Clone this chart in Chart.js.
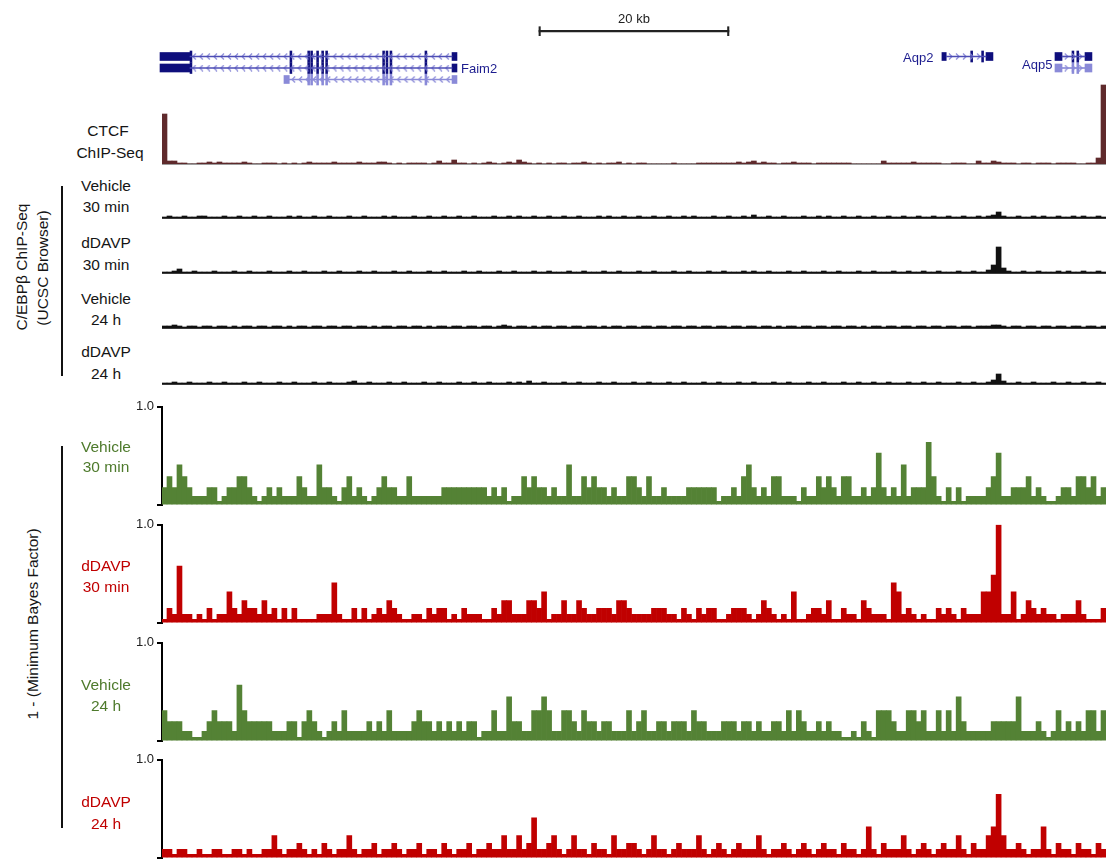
<!DOCTYPE html>
<html><head><meta charset="utf-8">
<script src="https://cdn.jsdelivr.net/npm/chart.js@4.4.1/dist/chart.umd.min.js"></script>
<style>
html,body{margin:0;padding:0;background:#fff;width:1106px;height:861px;overflow:hidden;}
#root{position:relative;width:1106px;height:861px;font-family:"Liberation Sans",Arial,Helvetica,sans-serif;}
canvas{position:absolute;}
.c{position:absolute;transform:translate(-50%,-50%);line-height:1;white-space:nowrap;}
.l{position:absolute;transform:translate(0,-50%);line-height:1;white-space:nowrap;}
.r{position:absolute;transform:translate(-50%,-50%) rotate(-90deg);line-height:1;white-space:nowrap;}
.brk{position:absolute;width:2px;background:#111;}
</style></head><body><div id="root"></div>
<script>
// ---------------- DATA ----------------
// CTCF ChIP-Seq signal per ~0.53 kb bin (pixel-height units, axis 0-80)
const ctcf = [
 50,3,3,1,1,0,0,1,1,2, 1,2,1,1,1,1,2,1,0,0, 1,1,1,0,1,0,1,0,1,2, 1,1,1,1,2,1,1,1,1,2,
 1,1,1,2,2,1,0,1,0,1, 1,1,1,0,1,3,1,1,4,1, 1,0,1,0,1,2,1,0,1,2, 1,4,2,1,0,1,0,1,0,1,
 1,0,1,1,2,1,0,1,0,1, 1,2,0,1,0,1,1,0,0,0, 0,0,1,0,0,0,0,1,1,1, 1,1,1,1,1,2,1,2,3,1,
 2,1,1,0,1,1,2,1,1,1, 0,1,1,1,1,1,1,1,0,0, 0,0,0,0,3,1,1,1,1,1, 2,1,1,1,1,1,0,0,1,1,
 1,0,0,3,1,1,3,2,1,1, 1,0,1,1,0,1,1,1,0,1, 1,1,1,0,0,1,1,6,79];
// C/EBPbeta ChIP-Seq (UCSC browser) signal, pixel-height units (axis 0-50)
const cebpVeh30 = [
 1,2,1,1,2,1,1,2,2,1, 1,1,2,1,1,2,1,1,2,1, 1,2,1,1,1,2,1,2,1,1, 2,1,1,2,1,1,1,2,1,1, 2,1,1,1,2,1,2,1,1,1,
 2,1,1,2,1,1,2,1,1,2, 1,1,2,1,1,1,2,1,1,2, 1,2,1,1,2,1,1,2,1,1, 2,1,1,2,1,1,1,2,1,2, 1,1,2,1,1,2,1,1,2,1,
 1,2,1,1,2,1,2,1,1,1, 2,1,1,2,1,1,2,1,3,1, 1,2,1,1,2,1,1,1,2,1, 1,2,1,2,1,1,2,1,1,2, 1,1,2,1,1,2,1,1,2,1,
 1,2,1,1,2,1,1,2,1,1, 2,1,1,2,1,2,3,6,2,1, 1,2,1,1,2,1,2,1,1,2, 1,1,2,1,2,1,1,2,1];
const cebpDdavp30 = [
 1,1,2,4,1,1,2,1,1,1, 2,1,1,1,2,1,1,2,1,1, 1,2,1,1,1,2,1,1,2,1, 1,1,2,1,1,2,1,1,1,2, 1,1,2,1,1,1,2,1,1,2,
 1,1,1,2,1,1,2,1,1,1, 2,1,1,2,1,1,1,2,1,1, 2,1,1,1,2,1,1,2,1,1, 1,2,1,1,2,1,1,1,2,1, 1,2,1,1,1,2,1,1,2,1,
 1,1,2,1,1,2,1,1,1,2, 1,1,2,1,1,1,2,1,2,1, 1,2,1,1,1,2,1,1,2,1, 1,1,2,1,1,2,1,1,1,2, 1,1,2,1,1,1,2,1,1,2,
 1,1,2,1,1,2,1,1,1,2, 1,1,2,1,1,3,8,26,5,2, 1,1,2,1,1,2,1,1,1,2, 1,2,1,1,2,1,1,2,1];
const cebpVeh24 = [
 2,2,3,2,1,2,2,1,2,2, 1,2,2,1,2,1,2,2,1,2, 2,1,2,2,1,2,1,2,2,1, 2,2,1,2,2,1,2,2,1,2, 2,1,2,1,2,2,1,2,2,1,
 2,2,1,2,1,2,2,1,2,2, 1,2,2,1,2,2,1,2,3,2, 1,2,2,1,2,1,2,2,1,2, 2,1,2,2,1,2,2,1,2,1, 2,2,1,2,2,1,2,2,1,2,
 2,1,2,2,1,2,2,1,2,2, 1,2,2,1,2,2,1,2,2,1, 2,2,1,2,1,2,2,1,2,2, 1,2,2,1,2,2,1,2,2,1, 2,1,2,2,1,2,2,1,2,2,
 1,2,2,1,2,2,1,2,2,1, 2,2,1,2,2,2,3,3,2,1, 2,2,1,2,2,1,2,2,1,2, 2,1,2,2,1,2,2,1,2];
const cebpDdavp24 = [
 1,1,2,1,1,2,1,1,1,2, 1,1,2,1,1,1,2,1,1,2, 1,1,1,2,1,1,2,1,1,1, 2,1,1,2,1,1,1,2,3,1, 1,2,1,1,1,2,1,1,2,1,
 1,1,2,1,1,2,1,1,1,2, 1,1,2,1,1,2,1,1,1,2, 1,2,1,3,1,1,2,1,1,1, 2,1,1,2,1,1,1,2,1,1, 2,1,1,1,2,1,1,2,1,1,
 1,2,1,1,2,1,1,1,2,1, 1,2,1,1,1,2,1,1,2,1, 1,1,2,1,1,2,1,1,1,2, 1,1,2,1,1,1,2,1,1,2, 1,1,2,1,1,2,1,1,1,2,
 1,1,2,1,1,2,1,1,1,2, 1,1,2,1,1,2,4,10,3,1, 1,2,1,1,2,1,1,1,2,1, 1,2,1,1,2,1,1,2,1];
// 1 - (Minimum Bayes Factor) per bin
const mbfVeh30 = [
 .18,.29,.18,.41,.29,.18,.09,.09,.09,.18, .18,.04,.09,.18,.18,.29,.29,.18,.09,.04,
 .09,.18,.09,.18,.09,.09,.09,.29,.18,.09, .09,.41,.18,.18,.09,.04,.18,.29,.09,.18,
 .09,.04,.09,.18,.29,.18,.18,.09,.09,.29, .09,.09,.09,.09,.09,.09,.18,.18,.18,.18,
 .18,.18,.18,.18,.18,.09,.18,.09,.18,.04, .09,.09,.29,.18,.29,.18,.18,.09,.18,.09,
 .09,.41,.09,.09,.29,.18,.29,.18,.18,.09, .18,.09,.09,.29,.29,.18,.09,.29,.09,.09,
 .18,.09,.09,.09,.09,.18,.18,.18,.18,.18, .18,.04,.09,.09,.18,.09,.29,.41,.18,.09,
 .18,.09,.29,.29,.09,.09,.09,.04,.18,.09, .09,.29,.18,.29,.18,.09,.29,.29,.09,.09,
 .18,.09,.18,.53,.18,.09,.18,.09,.41,.09, .18,.18,.18,.64,.29,.09,.04,.18,.04,.18,
 .04,.09,.09,.09,.09,.18,.29,.53,.09,.09, .18,.18,.18,.29,.09,.18,.09,.04,.04,.09,
 .18,.18,.09,.29,.29,.18,.29,.09,.18];
const mbfDdavp30 = [
 .04,.15,.09,.58,.09,.09,.04,.09,.04,.15, .04,.09,.09,.32,.15,.09,.23,.15,.15,.09,
 .23,.09,.15,.04,.15,.04,.15,.04,.04,.04, .04,.09,.09,.09,.41,.09,.04,.04,.15,.04,
 .15,.04,.09,.15,.09,.23,.15,.09,.04,.04, .09,.09,.04,.15,.09,.15,.15,.04,.09,.04,
 .15,.09,.09,.09,.04,.04,.15,.09,.23,.23, .09,.09,.09,.23,.23,.15,.32,.04,.09,.09,
 .23,.09,.09,.23,.15,.09,.09,.15,.15,.15, .09,.23,.23,.15,.09,.09,.09,.09,.15,.15,
 .15,.09,.09,.04,.15,.09,.04,.15,.09,.15, .15,.04,.04,.09,.15,.15,.15,.09,.04,.09,
 .23,.15,.09,.04,.09,.04,.32,.04,.04,.09, .15,.15,.09,.23,.04,.04,.15,.09,.09,.04,
 .23,.15,.09,.09,.09,.04,.41,.32,.09,.15, .09,.04,.09,.04,.04,.15,.09,.15,.09,.04,
 .15,.09,.09,.09,.32,.32,.49,1.0,.09,.09, .32,.04,.09,.23,.15,.09,.15,.09,.09,.04,
 .09,.09,.09,.23,.09,.04,.04,.04,.15];
const mbfVeh24 = [
 .31,.20,.20,.20,.10,.10,.04,.04,.10,.20, .31,.20,.20,.20,.10,.57,.31,.20,.20,.20,
 .20,.20,.10,.10,.10,.20,.20,.04,.20,.31, .20,.10,.04,.10,.20,.10,.31,.10,.10,.10,
 .10,.20,.10,.20,.10,.31,.10,.10,.10,.10, .20,.31,.20,.20,.10,.20,.10,.20,.10,.20,
 .10,.20,.20,.04,.10,.10,.31,.10,.10,.45, .20,.20,.10,.10,.31,.31,.45,.31,.10,.10,
 .31,.31,.20,.10,.31,.20,.20,.10,.20,.20, .10,.10,.10,.31,.10,.20,.31,.10,.10,.20,
 .20,.10,.20,.20,.20,.10,.31,.20,.20,.10, .10,.10,.20,.20,.20,.10,.20,.20,.10,.20,
 .10,.10,.20,.20,.10,.31,.10,.31,.20,.10, .10,.20,.10,.20,.10,.10,.04,.04,.10,.04,
 .20,.10,.04,.31,.31,.31,.20,.10,.10,.31, .31,.20,.31,.10,.10,.31,.10,.31,.10,.45,
 .20,.10,.10,.10,.10,.10,.20,.20,.20,.20, .20,.45,.10,.10,.10,.20,.10,.04,.10,.31,
 .10,.20,.10,.20,.10,.31,.31,.10,.31];
const mbfDdavp24 = [
 .09,.09,.04,.09,.09,.04,.04,.09,.04,.04, .09,.09,.04,.04,.09,.09,.04,.09,.04,.04,
 .09,.09,.23,.09,.04,.09,.09,.15,.09,.04, .09,.04,.15,.09,.04,.09,.09,.23,.09,.04,
 .09,.09,.15,.04,.09,.09,.15,.09,.04,.09, .09,.15,.04,.09,.09,.04,.15,.09,.04,.09,
 .09,.15,.04,.09,.09,.15,.09,.09,.23,.09, .09,.23,.09,.15,.41,.09,.09,.15,.23,.09,
 .04,.09,.23,.09,.09,.04,.15,.09,.09,.04, .23,.09,.09,.15,.15,.09,.04,.09,.23,.09,
 .09,.04,.09,.15,.09,.09,.09,.23,.09,.04, .09,.15,.09,.04,.09,.15,.09,.09,.09,.23,
 .09,.04,.09,.09,.15,.09,.04,.09,.15,.09, .04,.09,.15,.09,.09,.04,.15,.09,.09,.04,
 .09,.32,.09,.04,.15,.09,.09,.09,.23,.09, .04,.09,.15,.09,.04,.09,.15,.09,.09,.23,
 .09,.04,.15,.09,.09,.23,.32,.65,.23,.09, .09,.15,.09,.04,.09,.09,.32,.09,.04,.15,
 .09,.09,.04,.15,.09,.09,.04,.15,.09];
// Gene models (kb from left edge of the window)
const faim2Utr = [[-0.21, 2.95], [30.53, 31.05]];
const faim2Exons = [2.95, 13.47, 15.34, 15.65, 16.28, 16.81, 17.23, 23.23, 23.58, 24.00, 27.68];
const faim2Intron = [2.95, 30.53];
const faim2ShortUtr = [[12.84, 13.40], [30.53, 31.05]];
const faim2ShortExons = [15.34, 15.65, 16.28, 16.81, 17.23, 23.23, 23.58, 24.00, 27.68];
const faim2ShortIntron = [13.40, 30.53];
const aqp2Utr = [[82.10, 82.55], [86.74, 87.47]];
const aqp2Exons = [85.13, 86.28];
const aqp2Intron = [82.55, 86.74];
const aqp5Utr = [[94.00, 94.74], [97.16, 97.89]];
const aqp5Exons = [95.79, 96.30];
const aqp5Intron = [94.74, 97.16];
const scaleBarKb = [39.68, 59.68];
const geneLabels = ['Faim2', 'Aqp2', 'Aqp5'];
const kbPerBin = 5 / 9.5;

// ---------------- DRAWING ----------------
Chart.defaults.font.family = '"Liberation Sans", Arial, Helvetica, sans-serif';
const root = document.getElementById('root');
const binLabels = ctcf.map((_, i) => (i * kbPerBin).toFixed(2));
function addCanvas(left, top, w, h) {
  const c = document.createElement('canvas');
  c.width = w; c.height = h;
  c.style.left = left + 'px'; c.style.top = top + 'px';
  c.style.width = w + 'px'; c.style.height = h + 'px';
  root.appendChild(c); return c;
}
function addText(text, x, y, cls, color, size) {
  const d = document.createElement('div');
  d.className = cls; d.textContent = text;
  d.style.left = x + 'px'; d.style.top = y + 'px';
  d.style.color = color; d.style.fontSize = size + 'px';
  root.appendChild(d); return d;
}
const common = {responsive: false, animation: false, devicePixelRatio: 1, events: [],
  plugins: {legend: {display: false}, tooltip: {enabled: false}}};

function signalTrack(values, baseline, h, ymax, color, baseColor) {
  const c = addCanvas(162, baseline - h, 944, h + 2);
  new Chart(c, {type: 'bar',
    data: {labels: binLabels, datasets: [{data: values, backgroundColor: color, borderWidth: 0, barPercentage: 1, categoryPercentage: 1}]},
    options: {...common, layout: {padding: {top: 0, bottom: 2, left: 0, right: 0}},
      scales: {
        x: {display: true, grid: {display: false}, ticks: {display: false}, border: {display: true, color: baseColor, width: 2}, afterFit: s => { s.height = 0; }},
        y: {display: false, min: 0, max: ymax}
      }}});
}
function bayesTrack(values, axisTop, color) {
  const c = addCanvas(122, axisTop - 10, 984, 120);
  new Chart(c, {type: 'bar',
    data: {labels: binLabels, datasets: [{data: values, backgroundColor: color, borderWidth: 0, barPercentage: 1, categoryPercentage: 1}]},
    options: {...common, layout: {padding: {top: 10, bottom: 10, left: 0, right: 0}},
      scales: {
        x: {display: false},
        y: {min: 0, max: 1, afterFit: s => { s.width = 40; },
          afterBuildTicks: s => { s.ticks = [{value: 0}, {value: 1}]; },
          ticks: {callback: v => (v === 1 ? '1.0' : ''), color: '#222', font: {size: 13}, padding: 3},
          grid: {drawOnChartArea: false, drawTicks: true, tickLength: 5, color: '#000', lineWidth: 2},
          border: {display: true, color: '#000', width: 2}}
      }}});
}

// Gene track
const DARK = '#0e0e7c', LIGHT = '#8a8ad8', LINE = '#4c4cb4';
function chevronImg(dir) {
  const c = document.createElement('canvas'); c.width = 5; c.height = 7;
  const g = c.getContext('2d'); g.strokeStyle = LIGHT; g.lineWidth = 1.2; g.beginPath();
  if (dir < 0) { g.moveTo(4, 0.5); g.lineTo(1, 3.5); g.lineTo(4, 6.5); }
  else { g.moveTo(1, 0.5); g.lineTo(4, 3.5); g.lineTo(1, 6.5); }
  g.stroke(); return c;
}
const spans = (list, lane) => list.map(([s, e]) => ({y: lane, x: [s, e]}));
const marks = (list, lane) => list.map(p => ({y: lane, x: [p, p + 0.2]}));
function chevrons(span, lane) {
  const out = [];
  for (let p = span[0] + 0.45; p < span[1] - 0.2; p += 0.74) out.push({x: p, y: lane});
  return out;
}
const gc = addCanvas(150, 0, 956, 90);
const hb = (data, color, thick) => ({type: 'bar', data, backgroundColor: color, barThickness: thick, grouped: false, borderWidth: 0});
new Chart(gc, {type: 'bar',
  data: {datasets: [
    hb([...spans([faim2Intron], 1), ...spans([faim2Intron], 2), ...spans([aqp2Intron], 1), ...spans([aqp5Intron], 1)], LINE, 1),
    hb([...spans([faim2ShortIntron], 3), ...spans([aqp5Intron], 2)], LIGHT, 1),
    {type: 'scatter', data: [...chevrons(faim2Intron, 1), ...chevrons(faim2Intron, 2), ...chevrons(faim2ShortIntron, 3)], pointStyle: chevronImg(-1), pointRadius: 2},
    {type: 'scatter', data: [...chevrons(aqp2Intron, 1), ...chevrons(aqp5Intron, 1), ...chevrons(aqp5Intron, 2)], pointStyle: chevronImg(1), pointRadius: 2},
    hb([...spans(faim2Utr, 1), ...spans(faim2Utr, 2), ...spans(aqp2Utr, 1), ...spans(aqp5Utr, 1)], DARK, 8),
    hb([...marks(faim2Exons, 1), ...marks(faim2Exons, 2), ...marks(aqp2Exons, 1), ...marks(aqp5Exons, 1)], DARK, 11),
    hb([...spans(faim2ShortUtr, 3), ...spans(aqp5Utr, 2)], LIGHT, 8),
    hb([...marks(faim2ShortExons, 3), ...marks(aqp5Exons, 2)], LIGHT, 11),
    hb([{y: -1.2, x: scaleBarKb}], '#222', 1.5),
    hb([{y: -1.2, x: [scaleBarKb[0], scaleBarKb[0] + 0.15]}, {y: -1.2, x: [scaleBarKb[1] - 0.15, scaleBarKb[1]]}], '#222', 9)
  ]},
  options: {...common, indexAxis: 'y', layout: {padding: 0, autoPadding: false},
    scales: {x: {type: 'linear', display: false, offset: false, min: -1.263, max: 99.37},
             y: {type: 'linear', display: false, offset: false, min: -3.913, max: 3.913, reverse: true}}}});

// tracks
signalTrack(ctcf, 164, 80, 80, '#5f2a2c', '#9c9c9c');
signalTrack(cebpVeh30, 218, 50, 50, '#111', '#3c3c3c');
signalTrack(cebpDdavp30, 273, 50, 50, '#111', '#3c3c3c');
signalTrack(cebpVeh24, 328, 50, 50, '#111', '#3c3c3c');
signalTrack(cebpDdavp24, 384, 50, 50, '#111', '#3c3c3c');
const GREEN = '#548235', RED = '#c00000';
bayesTrack(mbfVeh30, 406, GREEN);
bayesTrack(mbfDdavp30, 524, RED);
bayesTrack(mbfVeh24, 642, GREEN);
bayesTrack(mbfDdavp24, 759, RED);

// text
const BL = '#151515', GT = '#4e7a2c', RT = '#c00000', FS = 15.5;
addText('20 kb', 634, 18, 'c', '#222', 13);
addText(geneLabels[0], 461, 68, 'l', '#1d1d8f', 13);
addText(geneLabels[1], 903, 57, 'l', '#1d1d8f', 13);
addText(geneLabels[2], 1022, 64, 'l', '#1d1d8f', 13);
addText('CTCF', 108, 131, 'c', BL, FS); addText('ChIP-Seq', 110, 153, 'c', BL, FS);
addText('Vehicle', 106, 186, 'c', BL, FS); addText('30 min', 106, 207, 'c', BL, FS);
addText('dDAVP', 106, 243, 'c', BL, FS); addText('30 min', 106, 265, 'c', BL, FS);
addText('Vehicle', 106, 299, 'c', BL, FS); addText('24 h', 106, 320, 'c', BL, FS);
addText('dDAVP', 106, 352, 'c', BL, FS); addText('24 h', 106, 374, 'c', BL, FS);
addText('Vehicle', 106, 447, 'c', GT, FS); addText('30 min', 106, 467, 'c', GT, FS);
addText('dDAVP', 106, 566, 'c', RT, FS); addText('30 min', 106, 587, 'c', RT, FS);
addText('Vehicle', 106, 685, 'c', GT, FS); addText('24 h', 106, 706, 'c', GT, FS);
addText('dDAVP', 106, 802, 'c', RT, FS); addText('24 h', 106, 824, 'c', RT, FS);
addText('C/EBPβ ChIP-Seq', 22, 267, 'r', BL, FS);
addText('(UCSC Browser)', 42.5, 268, 'r', BL, FS);
addText('1 - (Minimum Bayes Factor)', 33, 624, 'r', BL, FS);
const b1 = document.createElement('div'); b1.className = 'brk'; b1.style.left = '61px'; b1.style.top = '186px'; b1.style.height = '190px'; root.appendChild(b1);
const b2 = document.createElement('div'); b2.className = 'brk'; b2.style.left = '61px'; b2.style.top = '446px'; b2.style.height = '382px'; root.appendChild(b2);
</script></body></html>
